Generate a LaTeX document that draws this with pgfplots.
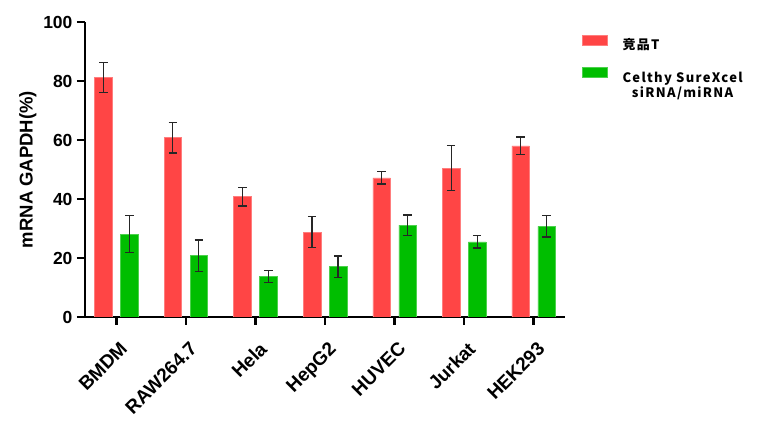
\documentclass[border=0pt]{standalone}
\usepackage{fontspec}
\setmainfont{Liberation Sans}
\newfontfamily\legfont[LetterSpace=10]{Noto Sans CJK SC}
\usepackage{pgfplots}
\pgfplotsset{compat=1.18}
\definecolor{cred}{HTML}{FF4545}
\definecolor{cgreen}{HTML}{00BE00}
\begin{document}
\begin{tikzpicture}
\useasboundingbox (0,0) rectangle (777pt,422pt);
\begin{axis}[
  at={(85pt,105pt)}, anchor=south west,
  scale only axis, width=480pt, height=295pt,
  xmin=-0.45, xmax=6.45, ymin=0, ymax=100,
  axis x line*=bottom, axis y line*=left,
  axis line style={line width=2.6pt,-},
  ytick={0,20,40,60,80,100},
  xtick={0,...,6},
  xticklabels={BMDM,RAW264.7,Hela,HepG2,HUVEC,Jurkat,HEK293},
  tick style={line width=2.6pt,black},
  major tick length=8pt, tick align=outside,
  /pgf/number format/assume math mode=true,
  yticklabel style={font=\bfseries\fontsize{17.5}{17.5}\selectfont, xshift=-1pt},
  xticklabel style={font=\bfseries\fontsize{19}{19}\selectfont, rotate=45, anchor=north east, inner sep=1pt, xshift=-8pt, yshift=-12pt},
  ylabel={mRNA GAPDH(\%)},
  ylabel style={font=\bfseries\fontsize{18.5}{18.5}\selectfont},
  ybar, bar width=17.5pt,
  legend style={at={(1.029,0.965)}, anchor=north west, draw=none, fill=none,
    font=\legfont\bfseries\fontsize{13}{14.6}\selectfont,
    row sep=14pt,
    /tikz/every odd column/.append style={column sep=13pt}},
  legend cell align=left,
  legend image code/.code={\fill[#1] (0pt,-1pt) rectangle (25pt,9.5pt);},
  error bars/y dir=both, error bars/y explicit,
  error bars/error bar style={line width=1.2pt, black!85},
  error bars/error mark options={rotate=90, mark size=4.2pt, line width=1.2pt, black!85},
]
\addplot[fill=cred, draw=cred!70, bar shift=-13pt] coordinates {
  (0,81.2) +- (0,5.1)
  (1,60.8) +- (0,5.2)
  (2,40.8) +- (0,3.2)
  (3,28.8) +- (0,5.3)
  (4,47.2) +- (0,2.1)
  (5,50.5) +- (0,7.6)
  (6,58.0) +- (0,3.0)
};
\addplot[fill=cgreen, draw=cgreen!70, bar shift=13pt] coordinates {
  (0,28.1) +- (0,6.2)
  (1,20.8) +- (0,5.3)
  (2,13.8) +- (0,2.0)
  (3,17.1) +- (0,3.6)
  (4,31.1) +- (0,3.5)
  (5,25.5) +- (0,2.1)
  (6,30.7) +- (0,3.6)
};
\legend{竞品T, {\raisebox{-4pt}{\begin{tabular}[t]{@{}c@{}}Celthy SureXcel\\siRNA/miRNA\end{tabular}}}}
\end{axis}
\end{tikzpicture}
\end{document}
